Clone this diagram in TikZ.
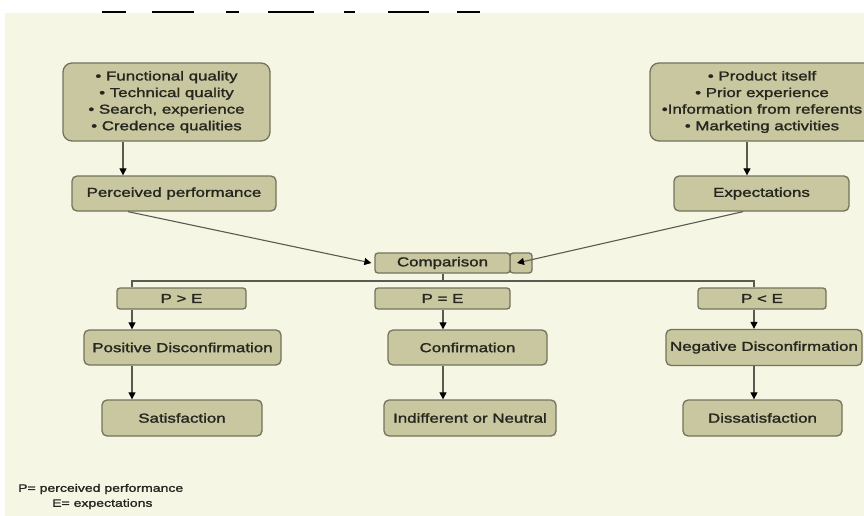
\documentclass[tikz,border=0pt]{standalone}
\usepackage{fontspec}
\usetikzlibrary{arrows.meta}
\newfontfamily\boxfont[FakeStretch=1.3,FakeBold=1.6]{Liberation Sans}
\definecolor{paper}{RGB}{245,246,228}
\definecolor{boxfill}{RGB}{200,199,160}
\definecolor{boxline}{RGB}{115,115,92}
\definecolor{wire}{RGB}{90,90,80}
\definecolor{ink}{RGB}{38,38,30}
\tikzset{>={Triangle[length=7pt,width=7pt,color=black]}}
\tikzset{box/.style={draw=boxline, fill=boxfill, line width=1.3pt, rounded corners=5pt,
    inner sep=0pt, align=center, text=ink, font=\boxfont\fontsize{13}{16.6}\selectfont},
  wire/.style={draw=wire, line width=1.1pt}}

\begin{document}
\begin{tikzpicture}[x=1pt,y=-1pt]
\useasboundingbox (0,0) rectangle (864,516);
\fill[paper] (5,13) rectangle (864,516);
% cut-off title strokes
\foreach \a/\b in {102/126,152/194,226/239,268/314,344/355,388/429,457/480}
  \draw[line width=2pt] (\a,12.5) -- (\b,12.5);

\node[box, rounded corners=9pt, minimum width=207pt, minimum height=78pt] (inA) at (166.5,102)
  {• Functional quality\\ • Technical quality\\ • Search, experience\\ • Credence qualities};
\node[box, rounded corners=9pt, minimum width=224pt, minimum height=78pt] (inB) at (762,102)
  {• Product itself\\ • Prior experience\\ •Information from referents\\ • Marketing activities};
\node[box, minimum width=204pt, minimum height=35pt] (pp) at (174,193.5) {Perceived performance};
\node[box, minimum width=175pt, minimum height=35pt] (expt) at (761.5,193.5) {Expectations};

\node[box, rounded corners=3pt, minimum width=22pt, minimum height=20pt] (cmptab) at (521,263) {};
\node[box, rounded corners=3pt, minimum width=135pt, minimum height=20pt] (cmp) at (442.5,263) {Comparison};

\node[box, rounded corners=3pt, minimum width=129pt, minimum height=21pt] (pge) at (181.5,298.5) {P > E};
\node[box, rounded corners=3pt, minimum width=135pt, minimum height=21pt] (peq) at (442.5,298.5) {P = E};
\node[box, rounded corners=3pt, minimum width=128pt, minimum height=21pt] (ple) at (762,298.5) {P < E};

\node[box, minimum width=197pt, minimum height=35pt] (posd) at (182.5,347.5) {Positive Disconfirmation};
\node[box, minimum width=159pt, minimum height=35pt] (conf) at (467.5,347.5) {Confirmation};
\node[box, minimum width=196pt, minimum height=36pt] (negd) at (764,347.5) {Negative Disconfirmation};

\node[box, minimum width=160pt, minimum height=36pt] (sat) at (182,418) {Satisfaction};
\node[box, minimum width=172pt, minimum height=36pt] (neut) at (470,418) {Indifferent or Neutral};
\node[box, minimum width=159pt, minimum height=36pt] (dis) at (762.5,418) {Dissatisfaction};

\coordinate (colA) at (123,0);
\coordinate (colB) at (747,0);
\coordinate (barL) at (132,281);
\coordinate (barM) at (443,281);
\coordinate (barR) at (754,281);

\draw[wire,->] (inA.south -| colA) -- (pp.north -| colA);
\draw[wire,->] (inB.south -| colB) -- (expt.north -| colB);
\draw[wire,->] ([xshift=-46pt]pp.south) -- ([xshift=-3pt]cmp.west);
\draw[wire,->] ([xshift=-18.5pt]expt.south) -- ([xshift=-4pt]cmptab.center);

\draw[wire] (cmp.south -| barM) -- (barM);
\draw[wire] (pge.north -| barL) -- (barL) -- (barR) -- (ple.north -| barR);
\draw[wire,->] (pge.south -| barL) -- (posd.north -| barL);
\draw[wire,->] (peq.south -| barM) -- (conf.north -| barM);
\draw[wire,->] (ple.south -| barR) -- (negd.north -| barR);
\draw[wire,->] (posd.south -| barL) -- (sat.north -| barL);
\draw[wire,->] (conf.south -| barM) -- (neut.north -| barM);
\draw[wire,->] (negd.south -| barR) -- (dis.north -| barR);

\node[anchor=west, inner sep=0pt, text=ink, font=\boxfont\fontsize{10.8}{12}\selectfont] (keyP) at (18,489) {P= perceived performance};
\node[anchor=west, inner sep=0pt, text=ink, font=\boxfont\fontsize{10.8}{12}\selectfont] (keyE) at (52,504) {E= expectations};
\end{tikzpicture}
\end{document}
